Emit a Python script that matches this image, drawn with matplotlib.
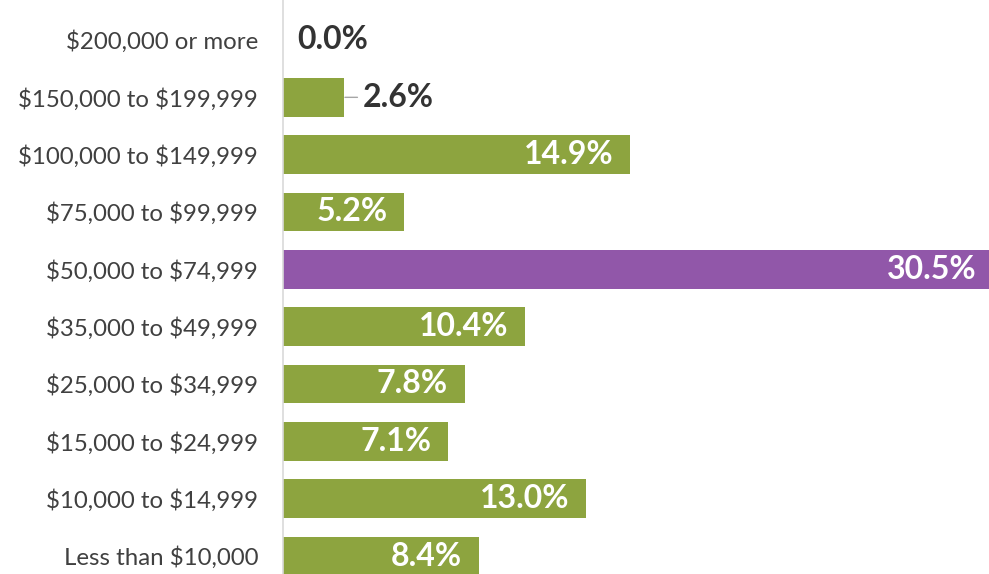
import matplotlib
matplotlib.use("Agg")
import matplotlib.pyplot as plt

categories = ["$200,000 or more", "$150,000 to $199,999", "$100,000 to $149,999",
              "$75,000 to $99,999", "$50,000 to $74,999", "$35,000 to $49,999",
              "$25,000 to $34,999", "$15,000 to $24,999", "$10,000 to $14,999",
              "Less than $10,000"]
values = [0.0, 2.6, 14.9, 5.2, 30.5, 10.4, 7.8, 7.1, 13.0, 8.4]
highlight = "$50,000 to $74,999"

GREEN = "#8DA43F"
PURPLE = "#9157A9"

plt.rcParams['font.family'] = ['Lato', 'DejaVu Sans']
plt.rcParams['text.parse_math'] = False

W, H = 989, 574
fig = plt.figure(figsize=(W / 100, H / 100), dpi=100)
x0 = 283
px_per_unit = 23.29
ax = fig.add_axes([x0 / W, 0, (W - x0) / W, 1])

ypos = list(range(len(categories)))
colors = [PURPLE if c == highlight else GREEN for c in categories]
ax.barh(ypos, values, height=0.68, color=colors)

ax.set_xlim(0, (W - x0) / px_per_unit)
row = (556 - 40) / 9
ax.set_ylim((574 - 40) / row, -40 / row)

ax.set_yticks(ypos)
ax.set_yticklabels(categories, fontsize=17.3, color="#404040")
ax.tick_params(axis='y', length=0, pad=18)
ax.set_xticks([])
for s in ["top", "right", "bottom"]:
    ax.spines[s].set_visible(False)
ax.spines["left"].set_color("#d9d9d9")
ax.spines["left"].set_linewidth(1.2)

for y, v in zip(ypos, values):
    label = f"{v:.1f}%"
    if v >= 4:
        ax.annotate(label, (v, y), xytext=(-12, 0), textcoords="offset points",
                    ha="right", va="center", fontsize=23, fontweight="bold",
                    color="white", annotation_clip=False)
    elif v > 0:
        ax.annotate(label, (v, y), xytext=(14, 0), textcoords="offset points",
                    ha="left", va="center", fontsize=23, fontweight="bold",
                    color="#333333", annotation_clip=False,
                    arrowprops=dict(arrowstyle="-", color="#a6a6a6", lw=1,
                                    shrinkA=2, shrinkB=1))
    else:
        ax.annotate(label, (v, y), xytext=(10, 0), textcoords="offset points",
                    ha="left", va="center", fontsize=23, fontweight="bold",
                    color="#333333", annotation_clip=False)

fig.savefig("out.png", dpi=100)
